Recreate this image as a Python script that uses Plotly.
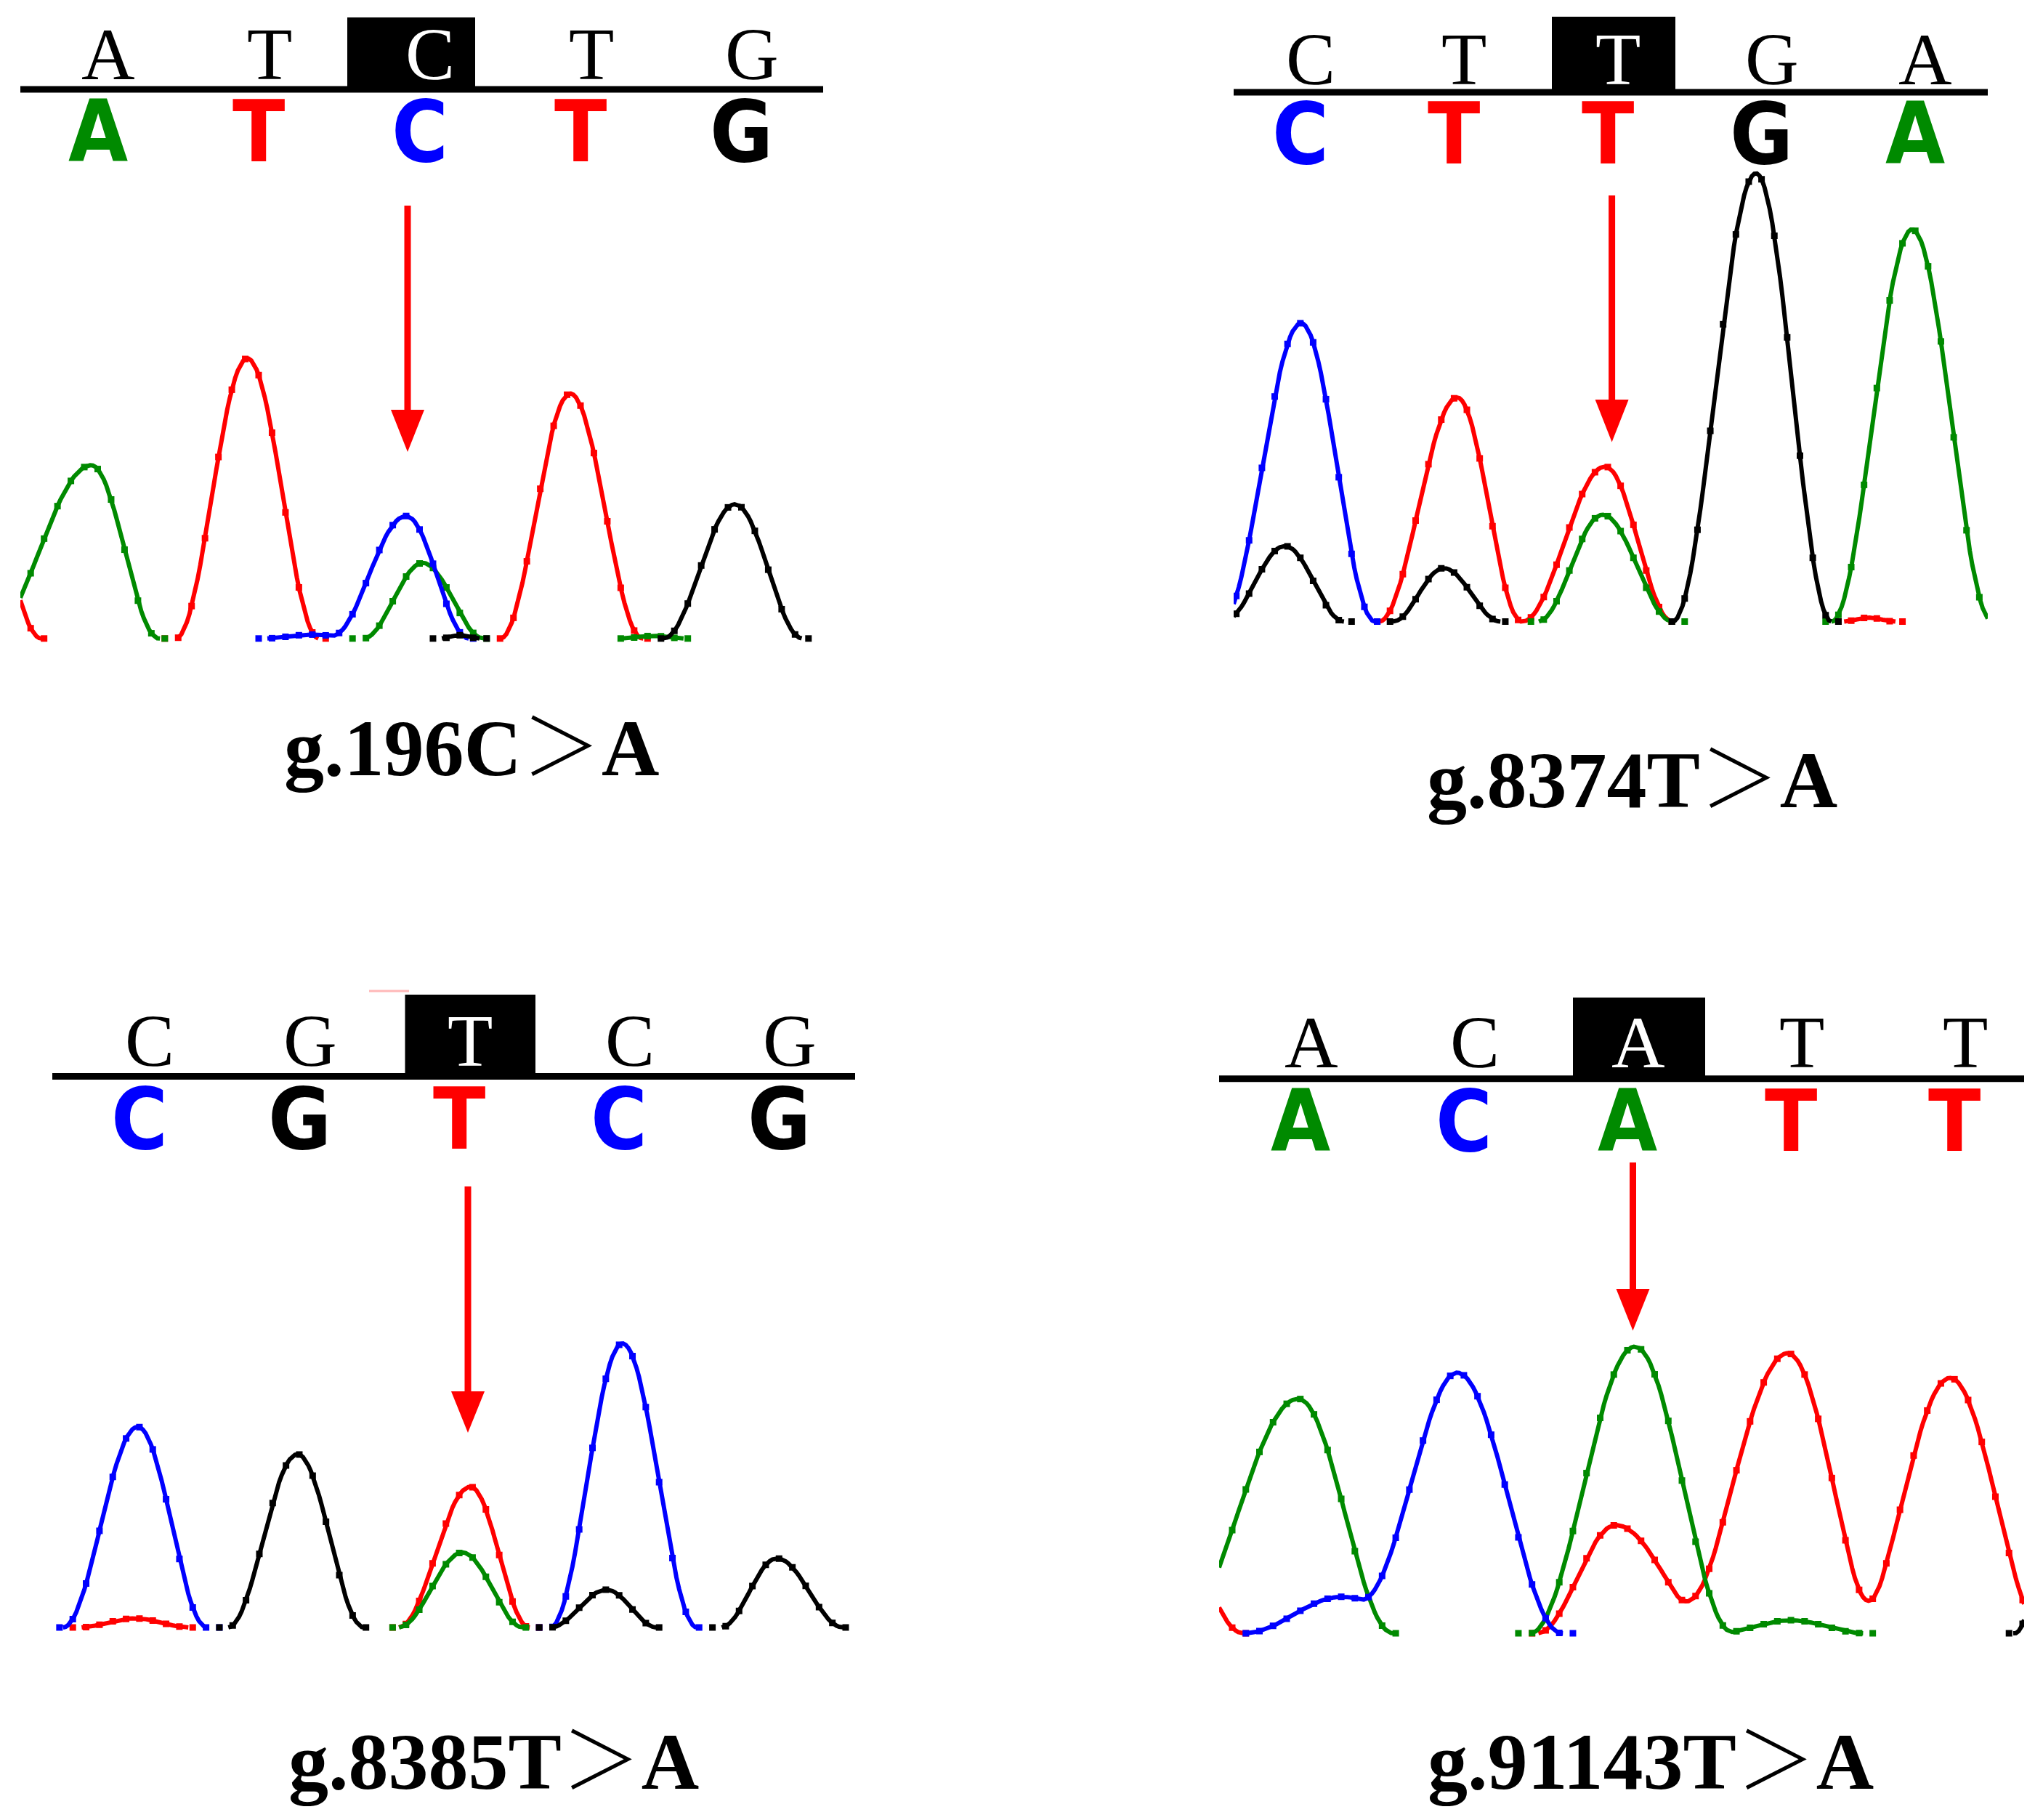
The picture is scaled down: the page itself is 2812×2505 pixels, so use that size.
import numpy as np
import plotly.graph_objects as go

W, H = 2812, 2505          # target canvas
PAGE_MARGIN = 8            # default body margin of the html page
FW, FH = W - 2 * PAGE_MARGIN, H - 2 * PAGE_MARGIN

# ---------------- data ----------------
top_calls = ["ATCTG", "CTTGA", "CGTCG", "ACATT"]       # plain base calls above the line
colored_calls = ["ATCTG", "CTTGA", "CGTCG", "ACATT"]   # coloured base calls below the line
mutation_labels = ["g.196C＞A", "g.8374T＞A", "g.8385T＞A", "g.91143T＞A"]
highlight_index = 2  # highlighted (mutated) position in each window

# chromatogram peaks: (centre [base index], height [signal], left half-width, right half-width)
p1_A = [(-0.04, 133, 0.65, 0.42), (2.02, 58, 0.37, 0.38), (3.45, 2, 0.2, 0.2)]
p1_C = [(1.33, 3, 0.3, 0.3), (1.916, 94, 0.47, 0.39)]
p1_G = [(2.25, 2.5, 0.12, 0.12), (3.96, 103, 0.445, 0.42)]
p1_T = [(-0.9, 220, 0.55, 0.55), (0.93, 215, 0.445, 0.445), (2.936, 188, 0.434, 0.449)]

p2_A = [(1.966, 82, 0.42, 0.458), (3.98, 301, 0.524, 0.52)]
p2_C = [(0.005, 229, 0.52, 0.48)]
p2_G = [(-0.1, 58, 0.40, 0.385), (0.932, 41, 0.33, 0.37), (2.964, 344, 0.543, 0.49)]
p2_T = [(1.02, 172, 0.508, 0.42), (1.983, 119, 0.54, 0.437), (3.7, 3, 0.17, 0.17)]

p3_A = [(2.02, 57.5, 0.40, 0.38)]
p3_C = [(-0.011, 154, 0.467, 0.433), (3.02, 218, 0.45, 0.467)]
p3_G = [(0.988, 133, 0.434, 0.416), (2.92, 29, 0.35, 0.317), (3.986, 53, 0.35, 0.416)]
p3_T = [(-0.03, 7, 0.35, 0.35), (2.07, 108, 0.448, 0.367)]

p4_A = [(-0.013, 180, 0.75, 0.58), (2.046, 220, 0.64, 0.6), (3.0, 10, 0.45, 0.45)]
p4_C = [(0.255, 28, 0.6, 0.6), (0.959, 200, 0.6, 0.64)]
p4_G = [(4.7, 150, 0.33, 0.33)]
p4_T = [(-0.85, 100, 0.5, 0.5), (1.929, 83, 0.48, 0.62), (2.98, 215, 0.7, 0.58), (3.973, 196, 0.6, 0.58)]

panel_peaks = [
    {"A": p1_A, "C": p1_C, "G": p1_G, "T": p1_T},
    {"A": p2_A, "C": p2_C, "G": p2_G, "T": p2_T},
    {"A": p3_A, "C": p3_C, "G": p3_G, "T": p3_T},
    {"A": p4_A, "C": p4_C, "G": p4_G, "T": p4_T},
]

# ---------------- styles / layout (pixels of the 2812x2505 canvas) ----------------
BASE_COLORS = {"A": "#008a00", "C": "#0000ff", "G": "#000000", "T": "#ff0000"}
DRAW_ORDER = ["T", "A", "C", "G"]
S = 1.7934          # canvas px per signal unit
Y_LO, Y_HI = -4, 396

panels = [
    dict(xl=28, xr=1133, base0=134.5, sp=221.5, baseline=878.8, line_y=123, box=(478, 654, 24),
         top_y=74.5, col_y=181, arrow=(561, 283, 564, 622), label=(649, 1030)),
    dict(xl=1698, xr=2736, base0=1789.8, sp=211.6, baseline=855.5, line_y=127, box=(2136, 2306, 23),
         top_y=81.5, col_y=183.6, arrow=(2218.6, 269, 550, 608.6), label=(2246, 1074)),
    dict(xl=72, xr=1177, base0=191.9, sp=220.1, baseline=2240, line_y=1481.5, box=(557.5, 737, 1369),
         top_y=1432, col_y=1540, arrow=(644, 1633, 1915, 1972), label=(679, 2425)),
    dict(xl=1678, xr=2786, base0=1789.8, sp=225.1, baseline=2248, line_y=1484.7, box=(2165, 2347, 1373),
         top_y=1434, col_y=1543, arrow=(2247.5, 1600, 1774, 1831.5), label=(2272, 2425)),
]


def fx(x):
    return (x - PAGE_MARGIN) / FW


def fy(y):
    return 1 - (y - PAGE_MARGIN) / FH


def curve(xs, peaks):
    y = np.zeros_like(xs)
    for c, h, lw, rw in peaks:
        d = xs - c
        w = np.where(d < 0, lw, rw)
        m = np.abs(d) < w
        y[m] += h * np.cos(np.pi * d[m] / (2 * w[m])) ** 2
    return y


def masked(y):
    pos = y > 0.05
    keep = pos.copy()
    keep[1:] |= pos[:-1]
    keep[:-1] |= pos[1:]
    return [float(v) if k else None for v, k in zip(y, keep)]


fig = go.Figure()
shapes = []
annotations = []
layout_axes = {}

for k, (p, peaks) in enumerate(zip(panels, panel_peaks), start=1):
    xa = "x" if k == 1 else f"x{k}"
    ya = "y" if k == 1 else f"y{k}"
    x0 = (p["xl"] - p["base0"]) / p["sp"]
    x1 = (p["xr"] - p["base0"]) / p["sp"]
    bottom_px = p["baseline"] - Y_LO * S
    top_px = p["baseline"] - Y_HI * S
    axis_common = dict(visible=False, showgrid=False, zeroline=False, fixedrange=True)
    layout_axes["xaxis" if k == 1 else f"xaxis{k}"] = dict(
        domain=[fx(p["xl"]), fx(p["xr"])], range=[x0, x1], anchor=ya, **axis_common)
    layout_axes["yaxis" if k == 1 else f"yaxis{k}"] = dict(
        domain=[fy(bottom_px), fy(top_px)], range=[Y_LO, Y_HI], anchor=xa, **axis_common)

    fine = np.linspace(x0, x1, int((x1 - x0) * 60) + 1)
    coarse = np.arange(np.ceil(x0 * 12), np.floor(x1 * 12) + 1) / 12.0
    for base in DRAW_ORDER:
        col = BASE_COLORS[base]
        fig.add_trace(go.Scatter(x=fine, y=masked(curve(fine, peaks[base])), mode="lines",
                                 line=dict(color=col, width=6), xaxis=xa, yaxis=ya,
                                 hoverinfo="skip", showlegend=False))
        fig.add_trace(go.Scatter(x=coarse, y=masked(curve(coarse, peaks[base])), mode="markers",
                                 marker=dict(color=col, size=9, symbol="square"), xaxis=xa, yaxis=ya,
                                 hoverinfo="skip", showlegend=False))

    # highlight box and header line
    bx0, bx1, by0 = p["box"]
    shapes.append(dict(type="rect", xref="paper", yref="paper", x0=fx(bx0), x1=fx(bx1),
                       y0=fy(p["line_y"]), y1=fy(by0), fillcolor="black", line=dict(width=0)))
    shapes.append(dict(type="rect", xref="paper", yref="paper", x0=fx(p["xl"]), x1=fx(p["xr"]),
                       y0=fy(p["line_y"] + 4.5), y1=fy(p["line_y"] - 4.5), fillcolor="black",
                       line=dict(width=0)))
    # arrow
    ax_, ay0, ahead, atip = p["arrow"]
    shapes.append(dict(type="rect", xref="paper", yref="paper", x0=fx(ax_ - 4.5), x1=fx(ax_ + 4.5),
                       y0=fy(ahead + 2), y1=fy(ay0), fillcolor="#ff0000", line=dict(width=0)))
    shapes.append(dict(type="path", xref="paper", yref="paper",
                       path=f"M {fx(ax_ - 23)},{fy(ahead)} L {fx(ax_ + 23)},{fy(ahead)} L {fx(ax_)},{fy(atip)} Z",
                       fillcolor="#ff0000", line=dict(width=0)))

    # base-call letters
    for i, (tb, cb) in enumerate(zip(top_calls[k - 1], colored_calls[k - 1])):
        annotations.append(dict(x=i + 0.066, xref=xa, y=fy(p["top_y"]), yref="paper",
                                text=tb, showarrow=False, xanchor="center", yanchor="middle",
                                font=dict(family="Liberation Serif, Times New Roman, serif", size=102,
                                          color="white" if i == highlight_index else "black")))
        annotations.append(dict(x=i, xref=xa, y=fy(p["col_y"]), yref="paper",
                                text=cb, showarrow=False, xanchor="center", yanchor="middle",
                                font=dict(family="Liberation Sans Narrow, Noto Sans Condensed, DejaVu Sans Condensed, Arial Narrow, sans-serif",
                                          size=118, weight="bold", color=BASE_COLORS[cb])))
    lx, ly = p["label"]
    annotations.append(dict(x=fx(lx), xref="paper", y=fy(ly), yref="paper", text=mutation_labels[k - 1],
                            showarrow=False, xanchor="center", yanchor="middle",
                            font=dict(family="Liberation Serif, Noto Serif CJK SC, Noto Sans CJK SC, serif",
                                      size=110, weight="bold", color="black")))

# small artifact line above the third highlight box
shapes.append(dict(type="line", xref="paper", yref="paper", x0=fx(508), x1=fx(563), y0=fy(1364), y1=fy(1364),
                   line=dict(color="#ffb8b8", width=3)))

fig.update_layout(width=FW, height=FH, margin=dict(l=0, r=0, t=0, b=0),
                  paper_bgcolor="white", plot_bgcolor="rgba(0,0,0,0)",
                  shapes=shapes, annotations=annotations, showlegend=False, **layout_axes)

fig.write_html("out.html")
